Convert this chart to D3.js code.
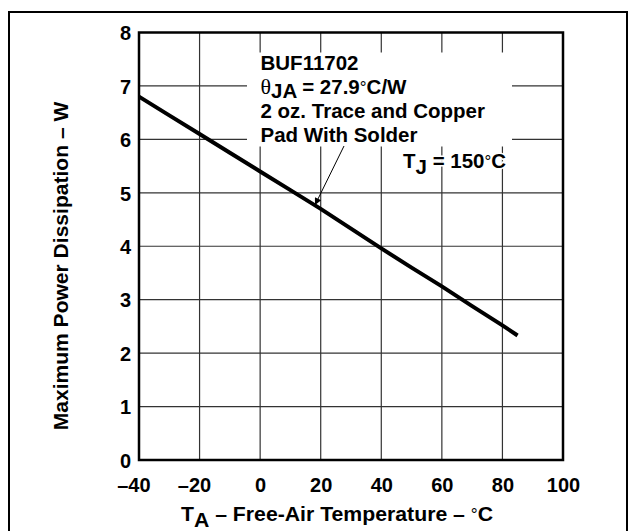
<!DOCTYPE html>
<html>
<head>
<meta charset="utf-8">
<script src="https://cdn.jsdelivr.net/npm/d3@7"></script>
<style>
  body { margin: 0; background: #fff; }
  svg { display: block; }
  text { font-family: "Liberation Sans", Arial, Helvetica, sans-serif; font-weight: bold; fill: #000; }
</style>
</head>
<body>
<svg width="632" height="531"></svg>
<script>
// chart data
var tempC = [-40, -30, -20, -10, 0, 10, 20, 30, 40, 50, 60, 70, 80, 85];
var powerW = [6.8, 6.45, 6.1, 5.75, 5.4, 5.05, 4.7, 4.33, 3.96, 3.6, 3.25, 2.88, 2.52, 2.33];
var xTicks = [-40, -20, 0, 20, 40, 60, 80, 100];
var yTicks = [0, 1, 2, 3, 4, 5, 6, 7, 8];

const svg = d3.select("svg");

// outer frame
svg.append("rect")
    .attr("x", 9).attr("y", 12)
    .attr("width", 618).attr("height", 540)
    .attr("fill", "none").attr("stroke", "#000").attr("stroke-width", 2);

const x = d3.scaleLinear().domain([-40, 100]).range([139, 563]);
const y = d3.scaleLinear().domain([0, 8]).range([460, 32.5]);

const g = svg.append("g");

// grid
g.selectAll(".vgrid").data(xTicks.slice(1, -1)).enter().append("line")
    .attr("x1", d => x(d)).attr("x2", d => x(d))
    .attr("y1", y(8)).attr("y2", y(0))
    .attr("stroke", "#333").attr("stroke-width", 1.2);
g.selectAll(".hgrid").data(yTicks.slice(1, -1)).enter().append("line")
    .attr("x1", x(-40)).attr("x2", x(100))
    .attr("y1", d => y(d)).attr("y2", d => y(d))
    .attr("stroke", "#333").attr("stroke-width", 1.2);

// white box behind the note
g.append("rect")
    .attr("x", 247).attr("y", 52.5)
    .attr("width", 265).attr("height", 94)
    .attr("fill", "#fff");

// data line
const line = d3.line().x((d, i) => x(tempC[i])).y(d => y(d));
g.append("path")
    .datum(powerW)
    .attr("d", line)
    .attr("fill", "none")
    .attr("stroke", "#000")
    .attr("stroke-width", 4);

// plot frame
g.append("rect")
    .attr("x", x(-40)).attr("y", y(8))
    .attr("width", x(100) - x(-40)).attr("height", y(0) - y(8))
    .attr("fill", "none").attr("stroke", "#000").attr("stroke-width", 2.5);

// axes
const xAxis = d3.axisBottom(x).tickValues(xTicks).tickSize(0).tickPadding(0)
    .tickFormat(d => d < 0 ? "\u2013" + Math.abs(d) : d);
const xg = svg.append("g").attr("transform", "translate(0,460)").call(xAxis);
xg.select(".domain").remove();
xg.selectAll("text")
    .attr("y", 32).attr("dy", null)
    .attr("dx", d => d < 0 ? -5.6 : 0)
    .style("font-size", "20px");

const yAxis = d3.axisLeft(y).tickValues(yTicks).tickSize(0).tickPadding(8);
const yg = svg.append("g").attr("transform", "translate(139,0)").call(yAxis);
yg.select(".domain").remove();
yg.selectAll("text").attr("dy", "0.36em").style("font-size", "20px");

// fit a text horizontally to a width, keeping its anchor
function fitWidth(sel, cx, w) {
    const bw = sel.node().getBBox().width;
    const k = w / bw;
    sel.attr("transform", (sel.attr("transform") || "") + ` translate(${cx},0) scale(${k},1) translate(${-cx},0)`);
}

// axis titles
const xt = svg.append("text")
    .attr("x", 337).attr("y", 521)
    .attr("text-anchor", "middle")
    .style("font-size", "21px");
xt.append("tspan").text("T");
xt.append("tspan").attr("dy", 6).text("A");
xt.append("tspan").attr("dy", -6).text(" \u2013 Free-Air Temperature \u2013 ");
xt.append("tspan").style("font-weight", "normal").style("font-size", "17px").attr("dy", -1).text("\u00b0");
xt.append("tspan").attr("dy", 1).text("C");
fitWidth(xt, 337, 310);

const yt = svg.append("text")
    .attr("x", 0).attr("y", 0)
    .attr("text-anchor", "middle")
    .style("font-size", "21px")
    .text("Maximum Power Dissipation \u2013 W");
fitWidth(yt, 0, 329);
yt.attr("transform", "translate(68,266) rotate(-90)" + yt.attr("transform"));

// note block
const note = svg.append("text").attr("x", 260.5).attr("y", 70).style("font-size", "20.5px");
note.append("tspan").text("BUF11702");
note.append("tspan").attr("x", 260.5).attr("y", 94)
    .style("font-family", "'Liberation Serif', serif").style("font-weight", "normal").style("font-size", "22px")
    .text("\u03b8");
note.append("tspan").attr("dy", 4).text("JA");
note.append("tspan").attr("dy", -4).text(" = 27.9");
note.append("tspan").style("font-weight", "normal").style("font-size", "17px").attr("dy", -1).text("\u00b0");
note.append("tspan").attr("dy", 1).text("C/W");
note.append("tspan").attr("x", 260.5).attr("y", 118).text("2 oz. Trace and Copper");
note.append("tspan").attr("x", 260.5).attr("y", 142).text("Pad With Solder");

// Tj label with halo
const tj = svg.append("text").attr("x", 403).attr("y", 168)
    .style("font-size", "20.5px")
    .attr("stroke", "#fff").attr("stroke-width", 3).attr("paint-order", "stroke");
tj.append("tspan").text("T");
tj.append("tspan").attr("dy", 6).text("J");
tj.append("tspan").attr("dy", -6).text(" = 150");
tj.append("tspan").style("font-weight", "normal").style("font-size", "17px").attr("dy", -1).text("\u00b0");
tj.append("tspan").attr("dy", 1).text("C");

// pointer arrow
svg.append("defs").append("marker")
    .attr("id", "ah").attr("viewBox", "0 0 10 10")
    .attr("refX", 10).attr("refY", 5)
    .attr("markerWidth", 9).attr("markerHeight", 7)
    .attr("markerUnits", "userSpaceOnUse")
    .attr("orient", "auto")
    .append("path").attr("d", "M0,0L10,5L0,10Z").attr("fill", "#000");
svg.append("line")
    .attr("x1", 344).attr("y1", 146)
    .attr("x2", 315).attr("y2", 205)
    .attr("stroke", "#000").attr("stroke-width", 1)
    .attr("marker-end", "url(#ah)");
</script>
</body>
</html>
